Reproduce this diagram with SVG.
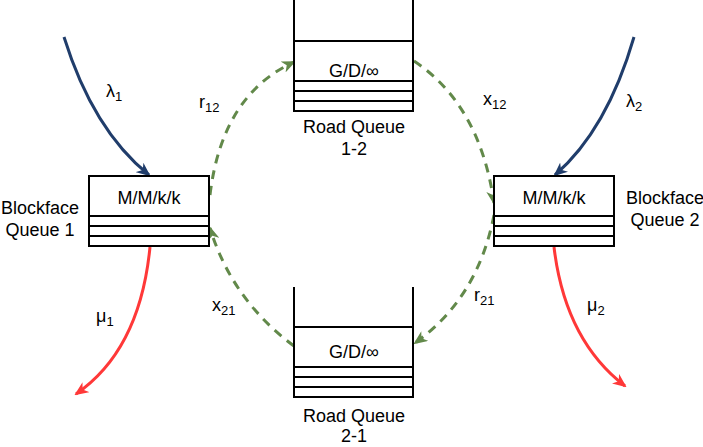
<svg xmlns="http://www.w3.org/2000/svg" width="703" height="447" viewBox="0 0 703 447">
<style>
text{font-family:"Liberation Sans",Arial,sans-serif;font-size:18px;fill:#000}
.c{text-anchor:middle}
.s{font-size:13px}
.box{fill:#fff;stroke:#000;stroke-width:2}
.ln{stroke:#000;stroke-width:2;fill:none}
.navy{stroke:#203d6b;stroke-width:3;fill:none}
.red{stroke:#ff3838;stroke-width:3;fill:none}
.grn{stroke:#62894a;stroke-width:3;fill:none;stroke-dasharray:9 7}
</style>
<defs>
<marker id="aN" markerUnits="userSpaceOnUse" viewBox="0 0 14 12" refX="12" refY="6" markerWidth="14" markerHeight="12" orient="auto"><path d="M0,0 L14,6 L0,12 L4,6 Z" fill="#203d6b"/></marker>
<marker id="aR" markerUnits="userSpaceOnUse" viewBox="0 0 14 12" refX="12" refY="6" markerWidth="14" markerHeight="12" orient="auto"><path d="M0,0 L14,6 L0,12 L4,6 Z" fill="#ff3838"/></marker>
<marker id="aG" markerUnits="userSpaceOnUse" viewBox="0 0 14 12" refX="12" refY="6" markerWidth="14" markerHeight="12" orient="auto"><path d="M0,0 L14,6 L0,12 L4,6 Z" fill="#62894a"/></marker>
</defs>

<g id="connectors">
<path class="navy" d="M64,37 Q93,130 149,175" marker-end="url(#aN)"/>
<path class="navy" d="M634,37 Q607,130 555,175" marker-end="url(#aN)"/>
<path class="red" d="M150,247 Q140,350 76,394" marker-end="url(#aR)"/>
<path class="red" d="M554,247 Q565,340 625,386" marker-end="url(#aR)"/>
<path class="grn" d="M210,195 Q222,95 294,62" marker-end="url(#aG)"/>
<path class="grn" d="M414,61 Q480,105 494,203" marker-end="url(#aG)"/>
<path class="grn" d="M494,215 Q478,298 415,343" marker-end="url(#aG)"/>
<path class="grn" d="M294,346 Q232,300 210,228" marker-end="url(#aG)"/>
<text x="106" y="97">λ<tspan class="s" dy="4">1</tspan></text>
<text x="626" y="107">λ<tspan class="s" dy="4">2</tspan></text>
<text x="199" y="108">r<tspan class="s" dy="4">12</tspan></text>
<text x="483" y="105">x<tspan class="s" dy="4">12</tspan></text>
<text x="474" y="301">r<tspan class="s" dy="4">21</tspan></text>
<text x="212" y="311">x<tspan class="s" dy="4">21</tspan></text>
<text x="96" y="322">μ<tspan class="s" dy="4">1</tspan></text>
<text x="587" y="311">μ<tspan class="s" dy="4">2</tspan></text>
</g>

<g id="blockface1">
<rect class="box" x="89" y="176" width="120" height="70"/>
<path class="ln" d="M89,216 H209 M89,226 H209 M89,236 H209"/>
<text class="c" x="149" y="204">M/M/k/k</text>
<text class="c" x="40" y="214">Blockface</text>
<text class="c" x="40" y="236">Queue 1</text>
</g>

<g id="blockface2">
<rect class="box" x="494" y="176" width="120" height="70"/>
<path class="ln" d="M494,216 H614 M494,226 H614 M494,236 H614"/>
<text class="c" x="554" y="204">M/M/k/k</text>
<text class="c" x="665" y="204">Blockface</text>
<text class="c" x="665" y="226">Queue 2</text>
</g>

<g id="road12">
<rect class="box" x="294" y="41" width="119" height="70"/>
<path class="ln" d="M294,0 V111 M413,0 V111 M294,81 H413 M294,91 H413 M294,101 H413"/>
<text class="c" x="354" y="77">G/D/∞</text>
<text class="c" x="354" y="133">Road Queue</text>
<text class="c" x="354" y="155">1-2</text>
</g>

<g id="road21">
<rect class="box" x="294" y="327" width="119" height="70"/>
<path class="ln" d="M294,287 V397 M413,287 V397 M294,367 H413 M294,377 H413 M294,387 H413"/>
<text class="c" x="354" y="358">G/D/∞</text>
<text class="c" x="354" y="422">Road Queue</text>
<text class="c" x="354" y="442">2-1</text>
</g>
</svg>
